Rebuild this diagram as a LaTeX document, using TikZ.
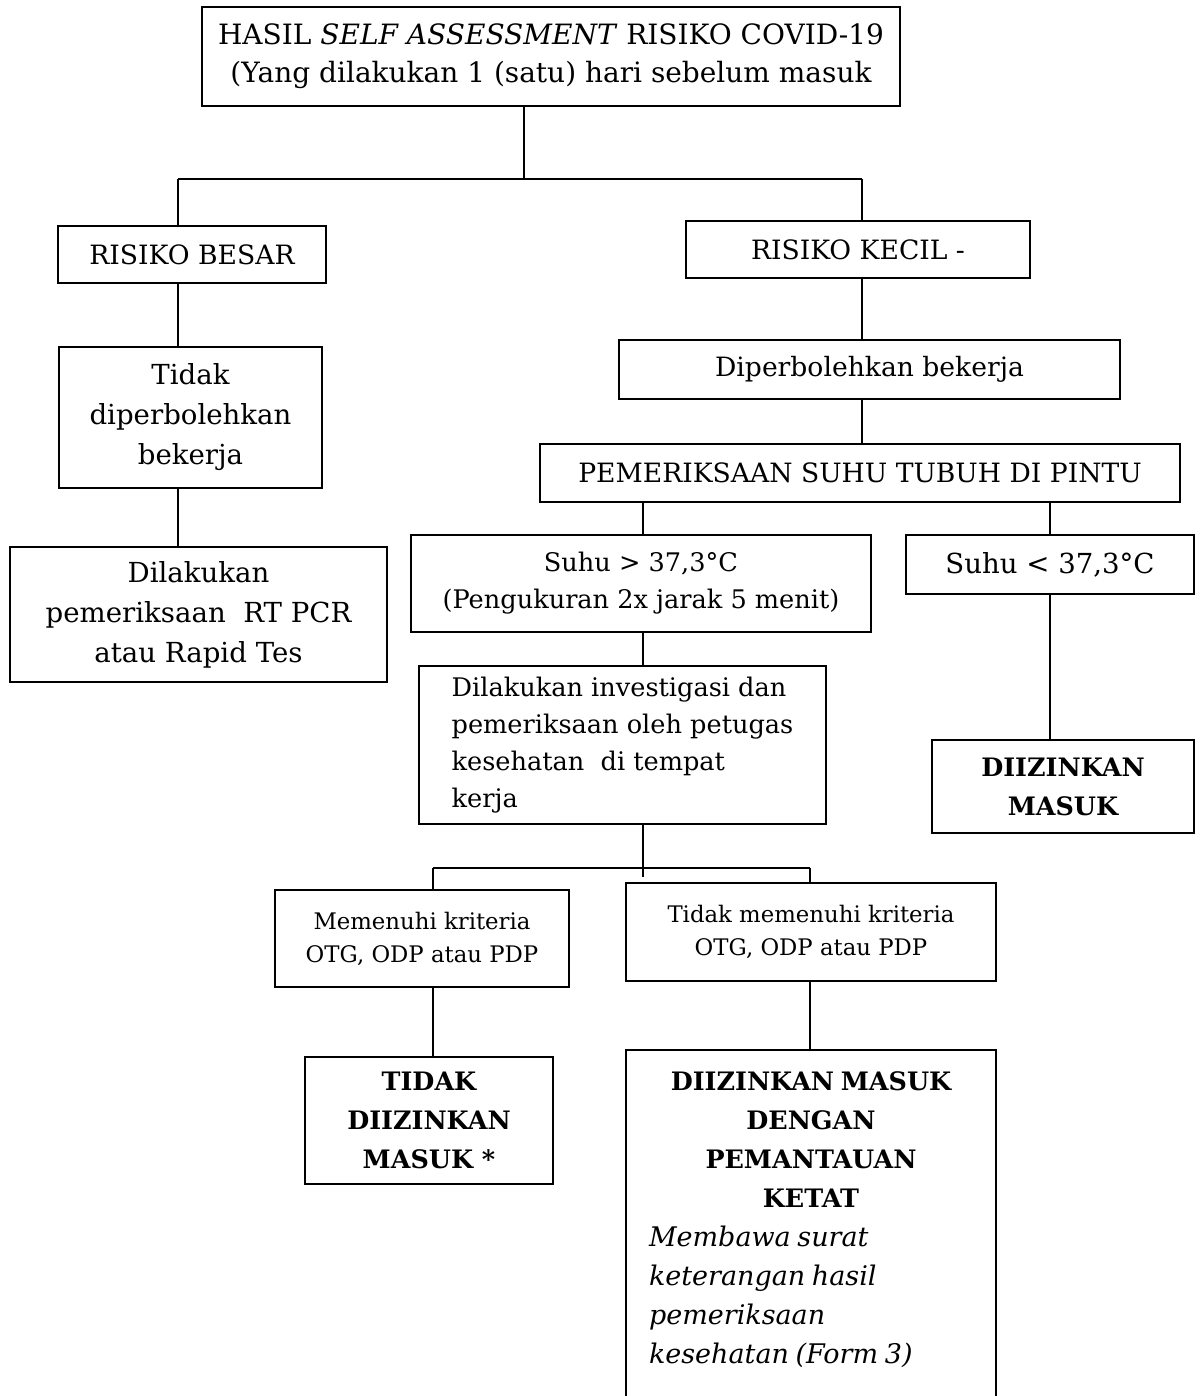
\documentclass[tikz,border=0pt]{standalone}
\usepackage{fontspec}
\setmainfont{DejaVu Serif}
\usetikzlibrary{positioning,calc}
\newcommand{\fbesar}{\fontsize{13.3}{20}\selectfont}
\newcommand{\fsedang}{\fontsize{12.8}{18.5}\selectfont}
\newcommand{\fkecil}{\fontsize{11.4}{16.5}\selectfont}
\newcommand{\ftebal}{\fontsize{12.7}{19.5}\selectfont\bfseries}

\begin{document}
\begin{tikzpicture}[x=0.5pt,y=-0.5pt,
kotak/.style = {draw, line width=1pt, inner sep=0pt, align=center, font=\fbesar},
ukuran/.style 2 args = {minimum width=#1*0.5pt, minimum height=#2*0.5pt},
garis/.style = {line width=1pt}]
\path[fill=white, use as bounding box] (0,0) rectangle (1200,1396);

% kotak-kotak
\node[kotak, ukuran={698}{99}, font=\fontsize{14}{19}\selectfont] (hasil) at (551,56.5)
  {HASIL \textit{SELF ASSESSMENT} RISIKO COVID-19\\(Yang dilakukan 1 (satu) hari sebelum masuk};
\node[kotak, ukuran={268}{57}] (besar) at (192,254.5) {RISIKO BESAR};
\node[kotak, ukuran={344}{57}] (kecil) at (858,249.5) {RISIKO KECIL -};
\node[kotak, ukuran={263}{141}, font=\fontsize{13.8}{20}\selectfont] (tidakboleh) at (190.5,417.5) {Tidak\\diperbolehkan\\bekerja};
\node[kotak, ukuran={501}{59}] (boleh) at (869.5,369.5) {Diperbolehkan bekerja};
\node[kotak, ukuran={377}{135}, font=\fontsize{13.8}{20}\selectfont] (rtpcr) at (198.5,614.5) {Dilakukan\\pemeriksaan\ \ RT PCR\\atau Rapid Tes};
\node[kotak, ukuran={640}{58}] (periksa) at (860,473) {PEMERIKSAAN SUHU TUBUH DI PINTU};
\node[kotak, ukuran={460}{97}, font=\fsedang] (suhutinggi) at (641,583.5)
  {Suhu > 37,3°C\\(Pengukuran 2x jarak 5 menit)};
\node[kotak, ukuran={288}{59}, font=\fontsize{13.8}{20}\selectfont] (suhurendah) at (1050,564.5) {Suhu < 37,3°C};
\node[kotak, ukuran={407}{158}, align=left, font=\fsedang] (investigasi) at (622.5,745)
  {Dilakukan investigasi dan\\pemeriksaan oleh petugas\\kesehatan\ \ di tempat\\kerja};
\node[kotak, ukuran={262}{93}, font=\ftebal] (masuk) at (1063,786.5) {DIIZINKAN\\MASUK};
\node[kotak, ukuran={294}{97}, font=\fkecil] (memenuhi) at (422,938.5)
  {Memenuhi kriteria\\OTG, ODP atau PDP};
\node[kotak, ukuran={370}{98}, font=\fkecil] (tidakmemenuhi) at (811,932)
  {Tidak memenuhi kriteria\\OTG, ODP atau PDP};
\node[kotak, ukuran={248}{127}, font=\ftebal] (tolak) at (429,1120.5)
  {TIDAK\\DIIZINKAN\\MASUK *};
\node[kotak, ukuran={370}{420}, anchor=north] (pantau) at (811,1049) {};
\node[anchor=north, inner sep=0pt, text width=162pt, below=11pt of pantau.north] (pantauteks)
  {{\ftebal\centering DIIZINKAN MASUK\\DENGAN\\PEMANTAUAN\\KETAT\par}
   {\fontsize{13.5}{19.5}\selectfont\itshape\raggedright Membawa surat\\keterangan hasil\\pemeriksaan\\kesehatan (Form 3)\par}};

% garis penghubung
\coordinate (kiri1) at (178,179);
\coordinate (kanan1) at (862,179);
\coordinate (tengah1) at (524,179);
\coordinate (kiri2) at (433,868);
\coordinate (kanan2) at (810,868);
\coordinate (tengah2) at (643,877);

\draw[garis] (hasil.south -| tengah1) -- (tengah1);
\draw[garis] (kiri1) -- (kanan1);
\draw[garis] (kiri1) -- (kiri1 |- besar.north);
\draw[garis] (kanan1) -- (kanan1 |- kecil.north);
\draw[garis] (besar.south -| kiri1) -- (tidakboleh.north -| kiri1);
\draw[garis] (tidakboleh.south -| kiri1) -- (rtpcr.north -| kiri1);
\draw[garis] (kecil.south -| kanan1) -- (boleh.north -| kanan1);
\draw[garis] (boleh.south -| kanan1) -- (periksa.north -| kanan1);
\draw[garis] (periksa.south -| tengah2) -- (suhutinggi.north -| tengah2);
\draw[garis] (periksa.south -| suhurendah) -- (suhurendah.north);
\draw[garis] (suhutinggi.south -| tengah2) -- (investigasi.north -| tengah2);
\draw[garis] (suhurendah.south) -- (suhurendah.south |- masuk.north);
\draw[garis] (investigasi.south -| tengah2) -- (tengah2);
\draw[garis] (kiri2) -- (kanan2);
\draw[garis] (kiri2) -- (kiri2 |- memenuhi.north);
\draw[garis] (kanan2) -- (kanan2 |- tidakmemenuhi.north);
\draw[garis] (memenuhi.south -| kiri2) -- (tolak.north -| kiri2);
\draw[garis] (tidakmemenuhi.south -| kanan2) -- (pantau.north -| kanan2);
\end{tikzpicture}
\end{document}
